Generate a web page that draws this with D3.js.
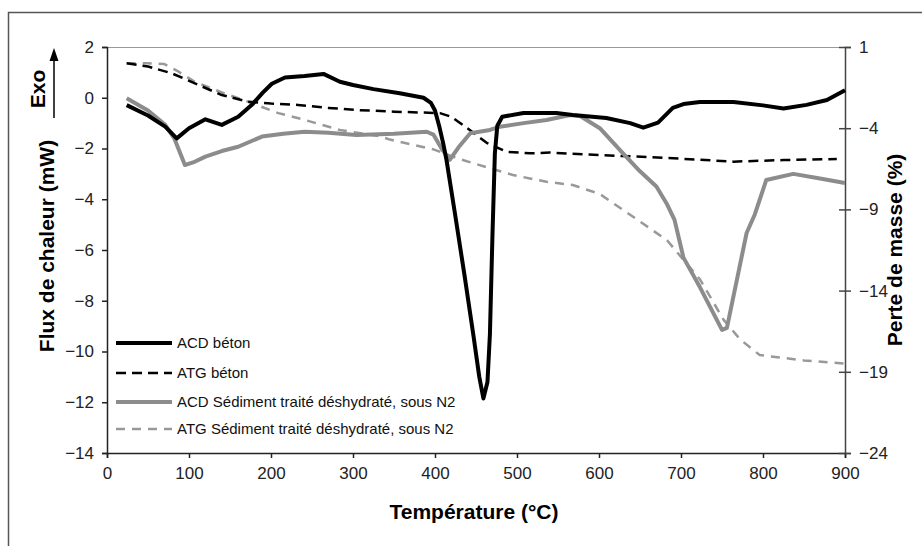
<!DOCTYPE html>
<html><head><meta charset="utf-8">
<script src="https://cdn.jsdelivr.net/npm/d3@7"></script>
<style>body{margin:0;background:#fff}svg{display:block}</style>
</head><body><svg id="c" width="922" height="546"></svg>
<script>
// ---- data ----
const xTicks = [0,100,200,300,400,500,600,700,800,900];
const yLeftTicks = [2,0,-2,-4,-6,-8,-10,-12,-14];
const yRightTicks = [1,-4,-9,-14,-19,-24];

const acdBetonT = [24,50,71,85,100,120,140,160,176,190,201,217,241,264,284,300,325,357,386,395,400,405,410,414,425,436,447,454,459,464,467,470,473,476,482,508,548,568,609,638,654,672,690,703,723,764,800,825,853,878,900];
const acdBetonV = [-0.29,-0.7,-1.14,-1.6,-1.2,-0.85,-1.07,-0.75,-0.3,0.2,0.55,0.8,0.86,0.94,0.63,0.5,0.34,0.18,0.0,-0.2,-0.5,-1.1,-1.8,-2.45,-4.7,-7.0,-9.4,-11.0,-11.85,-11.2,-9.3,-5.5,-2.2,-1.1,-0.75,-0.6,-0.6,-0.68,-0.8,-1.0,-1.18,-0.98,-0.4,-0.25,-0.17,-0.17,-0.3,-0.42,-0.28,-0.09,0.3];

const atgBetonT = [24,50,79,110,140,172,200,233,270,304,350,386,406,420,439,463,487,516,540,601,683,764,825,890];
const atgBetonV = [0.0,-0.2,-0.62,-1.3,-1.96,-2.37,-2.48,-2.57,-2.75,-2.88,-2.98,-3.04,-3.07,-3.3,-3.99,-4.9,-5.45,-5.55,-5.5,-5.65,-5.83,-6.06,-5.96,-5.9];

const acdSedT = [24,50,71,82,95,105,120,140,160,189,215,241,270,304,350,390,398,408,418,430,443,467,479,508,536,565,577,601,629,650,670,683,692,703,723,750,756,780,790,804,837,866,900];
const acdSedV = [-0.02,-0.5,-1.07,-1.6,-2.65,-2.55,-2.32,-2.1,-1.93,-1.53,-1.42,-1.34,-1.38,-1.47,-1.42,-1.34,-1.45,-2.0,-2.45,-1.9,-1.4,-1.27,-1.14,-1.0,-0.88,-0.68,-0.72,-1.2,-2.18,-2.9,-3.5,-4.2,-4.8,-6.3,-7.46,-9.15,-9.07,-5.33,-4.6,-3.24,-3.0,-3.16,-3.36];

const atgSedT = [24,50,70,85,107,140,172,209,241,284,333,345,398,430,467,495,536,568,601,642,683,723,752,772,796,850,900];
const atgSedV = [0.0,0.0,-0.05,-0.45,-1.14,-1.8,-2.37,-3.07,-3.49,-4.11,-4.5,-4.7,-5.3,-5.9,-6.46,-6.88,-7.3,-7.5,-8.05,-9.47,-10.9,-13.3,-15.8,-17.0,-17.97,-18.3,-18.5];

const legendLabels = ["ACD béton","ATG béton","ACD Sédiment traité déshydraté, sous N2","ATG Sédiment traité déshydraté, sous N2"];

// ---- layout ----
const svg = d3.select("#c");
const L = 107, R = 845, T = 47, B = 453;
const x = d3.scaleLinear().domain([0,900]).range([L,R]);
const yL = d3.scaleLinear().domain([-14,2]).range([B,T]);
const yR = d3.scaleLinear().domain([-24,1]).range([B,T]);
const tickFont = "Liberation Sans, Arial, sans-serif";

// outer frame (right and bottom edges lie outside the picture)
svg.append("rect").attr("x",8.5).attr("y",12.5).attr("width",930).attr("height",560)
  .attr("fill","none").attr("stroke","#555").attr("stroke-width",1.5);

// top border of plot
svg.append("line").attr("x1",L).attr("x2",R).attr("y1",T+0.5).attr("y2",T+0.5).attr("stroke","#999").attr("stroke-width",1);

// axes
const gx = svg.append("g").attr("transform",`translate(0,${B})`)
  .call(d3.axisBottom(x).tickValues(xTicks).tickSize(5).tickPadding(6));
const gl = svg.append("g").attr("transform",`translate(${L},0)`)
  .call(d3.axisLeft(yL).tickValues(yLeftTicks).tickSize(5).tickPadding(8));
const gr = svg.append("g").attr("transform",`translate(${R},0)`)
  .call(d3.axisRight(yR).tickValues(yRightTicks).tickSize(6).tickPadding(8));
gr.selectAll(".tick line").attr("x1",-6);
[gx,gl,gr].forEach(g=>{
  g.selectAll("text").attr("font-family",tickFont).attr("font-size",17).attr("fill","#222");
  g.selectAll("line,path").attr("stroke","#222").attr("stroke-width",1.5);
});
gr.selectAll("line,path").attr("stroke","#444");
gx.selectAll("text").attr("dy","0.9em");

// lines
const lineL = (ts,vs)=> d3.line().x((d,i)=>x(ts[i])).y((d,i)=>yL(vs[i]))(vs);
const lineR = (ts,vs)=> d3.line().x((d,i)=>x(ts[i])).y((d,i)=>yR(vs[i]))(vs);

const styles = [
  {stroke:"#000", w:4, dash:null},
  {stroke:"#000", w:2.5, dash:"10,6"},
  {stroke:"#8c8c8c", w:4, dash:null},
  {stroke:"#999", w:2.5, dash:"9,7"}
];
const paths = [
  lineR(atgSedT, atgSedV),
  lineR(atgBetonT, atgBetonV),
  lineL(acdSedT, acdSedV),
  lineL(acdBetonT, acdBetonV)
];
const order = [3,1,2,0];
paths.forEach((p,k)=>{
  const s = styles[order[k]];
  svg.append("path").attr("d",p).attr("fill","none").attr("stroke",s.stroke)
    .attr("stroke-width",s.w).attr("stroke-dasharray",s.dash).attr("stroke-linejoin","round");
});

// legend
const legY = [343,373,402,429];
legendLabels.forEach((lab,i)=>{
  const s = styles[i];
  svg.append("line").attr("x1",116).attr("x2",172).attr("y1",legY[i]).attr("y2",legY[i])
    .attr("stroke",s.stroke).attr("stroke-width",s.w).attr("stroke-dasharray",s.dash);
  svg.append("text").attr("x",177).attr("y",legY[i]).attr("dy","0.35em")
    .attr("font-family",tickFont).attr("font-size",15).attr("fill","#111").text(lab);
});

// titles
const bold = "Liberation Sans, Arial, sans-serif";
svg.append("text").attr("transform","translate(474,511)").attr("text-anchor","middle")
  .attr("dominant-baseline","central").attr("font-family",bold).attr("font-weight","bold")
  .attr("font-size",21).text("Température (°C)");
svg.append("text").attr("transform","translate(46,246) rotate(-90)").attr("text-anchor","middle")
  .attr("dominant-baseline","central").attr("font-family",bold).attr("font-weight","bold")
  .attr("font-size",21).text("Flux de chaleur (mW)");
svg.append("text").attr("transform","translate(894,250) rotate(-90)").attr("text-anchor","middle")
  .attr("dominant-baseline","central").attr("font-family",bold).attr("font-weight","bold")
  .attr("font-size",21).text("Perte de masse (%)");
svg.append("text").attr("transform","translate(37,89) rotate(-90)").attr("text-anchor","middle")
  .attr("dominant-baseline","central").attr("font-family",bold).attr("font-weight","bold")
  .attr("font-size",21).text("Exo");
// arrow
svg.append("line").attr("x1",54).attr("x2",54).attr("y1",118).attr("y2",58).attr("stroke","#000").attr("stroke-width",1.5);
svg.append("path").attr("d","M54,48 L49.5,61 L58.5,61 Z").attr("fill","#000");
</script></body></html>
